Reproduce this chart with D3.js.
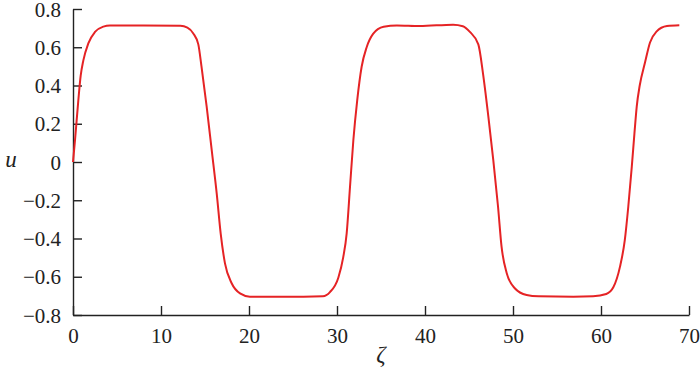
<!DOCTYPE html>
<html>
<head>
<meta charset="utf-8">
<script src="https://cdn.jsdelivr.net/npm/d3@7"></script>
<style>
  html, body { margin: 0; padding: 0; background: #fff; }
  svg { display: block; }
  svg text { font-family: 'Liberation Serif', 'Times New Roman', serif !important; }
</style>
</head>
<body>
<div id="chart"></div>
<script>
// values
const zeta = [0, 0.23, 0.6, 0.87, 1.17, 1.74, 2.5, 3.45, 4.2, 8, 12.2, 13.0, 13.67, 14.24, 14.6, 15.19, 15.76, 16.33, 16.78, 17.27, 18.03, 18.98, 20.1, 24, 28.4, 29.2, 30.15, 30.7, 31.1, 31.48, 31.86, 32.3, 32.8, 33.37, 34.1, 35.3, 36.8, 39.4, 43.2, 44.3, 45.1, 46.06, 46.6, 47.2, 47.76, 48.3, 48.7, 49.28, 50.2, 51.55, 52.9, 56.86, 59.1, 60.6, 61.4, 62.16, 62.7, 63.1, 63.5, 63.8, 64.06, 64.4, 65.0, 65.57, 66.3, 67.5, 68.9];
const uVals = [0, 0.115, 0.32, 0.45, 0.53, 0.62, 0.68, 0.708, 0.714, 0.714, 0.712, 0.703, 0.672, 0.615, 0.5, 0.29, 0.063, -0.164, -0.373, -0.53, -0.634, -0.687, -0.704, -0.705, -0.702, -0.68, -0.605, -0.5, -0.373, -0.129, 0.115, 0.324, 0.498, 0.6, 0.67, 0.707, 0.714, 0.711, 0.718, 0.71, 0.68, 0.615, 0.46, 0.237, 0.01, -0.234, -0.443, -0.58, -0.66, -0.695, -0.702, -0.704, -0.702, -0.69, -0.655, -0.547, -0.41, -0.234, -0.024, 0.15, 0.29, 0.4, 0.52, 0.625, 0.682, 0.711, 0.715];
const xTicks = [0, 10, 20, 30, 40, 50, 60, 70];
const yTicks = [-0.8, -0.6, -0.4, -0.2, 0, 0.2, 0.4, 0.6, 0.8];

const width = 700, height = 374;
const margin = { top: 9, right: 11, bottom: 59, left: 73 };

const svg = d3.select('#chart').append('svg')
  .attr('width', width)
  .attr('height', height);

const x = d3.scaleLinear().domain([0, 70]).range([margin.left, width - margin.right]);
const y = d3.scaleLinear().domain([-0.8, 0.8]).range([height - margin.bottom, margin.top]);

const fmt = d => d === 0 ? '0' : (d < 0 ? '\u2212' : '') + Math.abs(d).toFixed(1);

// axes, ticks pointing inward
const xAxis = svg.append('g')
  .attr('transform', `translate(0,${y(-0.8)})`)
  .call(d3.axisBottom(x).tickValues(xTicks).tickSizeInner(-9).tickSizeOuter(0).tickPadding(13).tickFormat(d3.format('d')));

const yAxis = svg.append('g')
  .attr('transform', `translate(${x(0)},0)`)
  .call(d3.axisLeft(y).tickValues(yTicks).tickSizeInner(-9).tickSizeOuter(0).tickPadding(12).tickFormat(fmt));

[xAxis, yAxis].forEach(g => {
  g.attr('font-size', 21);
  g.select('.domain').attr('stroke', '#222').attr('stroke-width', 1.4);
  g.selectAll('.tick line').attr('stroke', '#222').attr('stroke-width', 1.4);
  g.selectAll('.tick text').attr('fill', '#222');
});
yAxis.selectAll('.tick text').attr('dy', '0.34em');

// the curve
const line = d3.line()
  .x((d, i) => x(zeta[i]))
  .y(d => y(d))
  .curve(d3.curveMonotoneX);

svg.append('path')
  .datum(uVals)
  .attr('fill', 'none')
  .attr('stroke', '#e52325')
  .attr('stroke-width', 2)
  .attr('d', line);

// axis titles
svg.append('text')
  .attr('x', 11)
  .attr('y', y(0) + 5)
  .attr('text-anchor', 'middle')
  .attr('font-style', 'italic')
  .attr('font-size', 23)
  .attr('fill', '#222')
  .text('u');

svg.append('text')
  .attr('x', x(35))
  .attr('y', 362)
  .attr('text-anchor', 'middle')
  .attr('font-style', 'italic')
  .attr('font-size', 23)
  .attr('fill', '#222')
  .text('\u03b6');
</script>
</body>
</html>
